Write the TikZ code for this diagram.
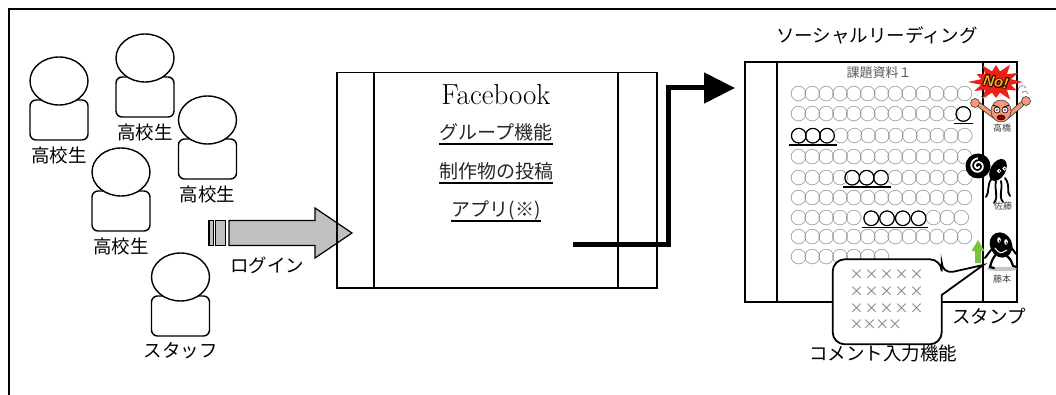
\documentclass[tikz,border=0pt]{standalone}
\usepackage{fontspec}
\newfontfamily\jp{Noto Sans CJK JP}
\newfontfamily\jpbold[FakeBold=3]{Noto Sans CJK JP}
\newfontfamily\lat{Liberation Sans}
\usetikzlibrary{arrows.meta,shapes.geometric}
\definecolor{arrowgray}{RGB}{192,192,192}
\definecolor{dotgray}{RGB}{128,128,128}
\definecolor{burstred}{RGB}{236,32,20}
\definecolor{noorange}{RGB}{250,168,20}
\definecolor{skin}{RGB}{244,152,118}
\definecolor{stampgreen}{RGB}{122,192,62}

\begin{document}
\begin{tikzpicture}[x=1pt,y=-1pt,
  lbl/.style={font=\jp\fontsize{18.5}{20}\selectfont, inner sep=0pt},
  fbtxt/.style={font=\jp\fontsize{19}{21}\selectfont, text=black!85, inner sep=0pt, anchor=base},
  gdot/.style={font=\jp\fontsize{17}{18}\selectfont, text=dotgray, inner sep=0pt},
  bdot/.style={font=\jpbold\fontsize{17}{18}\selectfont, text=black, inner sep=0pt},
  tiny/.style={font=\jp\fontsize{9}{10}\selectfont, text=black!75, inner sep=0pt},
  cross/.style={font=\jp\fontsize{14}{14}\selectfont, text=dotgray, inner sep=0pt},
  ul/.style={line width=1.2pt},
  pics/person/.style={code={
     \draw[line width=1.4pt, fill=white, rounded corners=6pt] (-29,0) rectangle (29,40);
     \draw[line width=1.4pt, fill=white] (0,-19) ellipse [x radius=29, y radius=24];
     \node[lbl] (-name) at (0,55) {#1};
  }},
]
\useasboundingbox (0,0) rectangle (1056,395);

% outer frame
\draw[line width=2pt] (9,395) -- (9,9.5) -- (1056,9.5);

% people
\pic (s1) at (59,100) {person=高校生};
\pic (s2) at (145,77) {person=高校生};
\pic (s3) at (207.5,139) {person=高校生};
\pic (s4) at (121,191) {person=高校生};
\pic (s5) at (180.5,296) {person=スタッフ};

% login arrow
\draw[line width=1.2pt, fill=arrowgray] (209,220.5) rectangle (213.3,245.5);
\draw[line width=1.2pt, fill=arrowgray] (215.7,220.5) rectangle (225.5,245.5);
\draw[line width=1.2pt, fill=arrowgray] (229,220.5) -- (315,220.5) -- (315,208) -- (352,233)
  -- (315,258) -- (315,245.5) -- (229,245.5) -- cycle;
\node[lbl] (login) at (267,265) {ログイン};

% Facebook block
\node[draw, line width=1.5pt, minimum width=320pt, minimum height=215pt, anchor=north west, inner sep=0pt] (fb) at (336,72) {};
\draw[line width=1.5pt] (374,72) -- (374,287);
\draw[line width=1.5pt] (618,72) -- (618,287);
\node[font=\fontsize{29}{31}\selectfont, inner sep=0pt] (fbtitle) at (496,95) {Facebook};
\node[fbtxt] (f1) at (496,140) {グループ機能};
\node[fbtxt] (f2) at (496,179) {制作物の投稿};
\node[fbtxt] (f3) at (496,217) {アプリ(※)};
\foreach \n in {f1,f2,f3}
  \draw[ul] ([yshift=-4pt]\n.base west) -- ([yshift=-4pt]\n.base east);

% social reading block
\node[lbl] (srtitle) at (877,35) {ソーシャルリーディング};
\node[draw, line width=2pt, minimum width=272pt, minimum height=240pt, anchor=north west, inner sep=0pt] (sr) at (744,61) {};
\draw[line width=2pt] (777,61) -- (777,301);
\draw[line width=2pt] (983,61) -- (983,301);

% connector
\coordinate (fbout) at (573,244);
\coordinate (turn) at (668,88);
\coordinate (srin) at (735,88);
\draw[line width=5pt, line join=miter, -{Triangle[length=31pt,width=30pt]}] (fbout) -| (turn) -- (srin);

% document text: rows of placeholder circles
\node[font=\jp\fontsize{13}{14}\selectfont, text=black!65, inner sep=0pt] (doc) at (879,73) {課題資料１};
\foreach \y/\x/\n/\sp/\st [count=\k] in {
   94/791.7/13/13.83/gdot,
   114/791.7/12/13.83/gdot, 114/956.4/1/13.83/bdot,
   135.7/791.7/3/14.1/bdot, 135.7/834/10/13.77/gdot,
   156.7/791.7/13/13.83/gdot,
   177.7/791.7/4/13.83/gdot, 177.7/845/3/14.4/bdot, 177.7/888.3/6/13.9/gdot,
   198.3/791.7/13/13.83/gdot,
   218.3/791.7/5/13.83/gdot, 218.3/863.3/4/15.8/bdot, 218.3/926.7/3/13.83/gdot,
   236.7/791.7/13/13.83/gdot,
   256.7/791.7/7/13.83/gdot}
  \foreach \i in {1,...,\n}
    \node[\st] (c\k-\i) at ({\x+\sp*(\i-0.5)}, \y) {○};
\draw[ul] ([xshift=-1pt,yshift=-9.3pt]c3-1.west) -- ([xshift=1pt,yshift=-9.3pt]c3-1.east);
\draw[ul] ([xshift=-1pt,yshift=-9.3pt]c4-1.west) -- ([xshift=1pt,yshift=-9.3pt]c4-3.east);
\draw[ul] ([xshift=-1pt,yshift=-9.3pt]c8-1.west) -- ([xshift=1pt,yshift=-9.3pt]c8-3.east);
\draw[ul] ([xshift=-1pt,yshift=-9.3pt]c12-1.west) -- ([xshift=1pt,yshift=-9.3pt]c12-4.east);

% stamp: angry man with NO!
\begin{scope}[shift={(996,82)}, xscale=1.4]
  \fill[burstred] (0:19) \foreach \a/\r in {30/17,60/20,90/16,120/19,150/18,180/20,210/16,240/19,270/17,300/20,330/18}
    { -- (\a-15:11) -- (\a:\r) } -- (345:11) -- cycle;
\end{scope}
\foreach \dx/\dy [count=\i] in {0.8/0,-0.8/0,0/0.8,0/-0.8,0.6/0.6,-0.6/0.6,0.6/-0.6,-0.6/-0.6}
  \node[font=\lat\bfseries\itshape\fontsize{15}{15}\selectfont, text=black, inner sep=0pt, rotate=-8] (nosh\i) at (996+\dx,82+\dy) {No!};
\node[font=\lat\bfseries\itshape\fontsize{15}{15}\selectfont, text=noorange, inner sep=0pt, rotate=-8] (notext) at (996,82) {No!};
\draw[line width=5pt, black!75, line cap=round] (994,116) -- (978,104);
\draw[line width=3.4pt, skin, line cap=round] (994,116) -- (978,104);
\draw[line width=5pt, black!75, line cap=round] (1008,116) -- (1023,103);
\draw[line width=3.4pt, skin, line cap=round] (1008,116) -- (1023,103);
\filldraw[fill=skin, draw=black!75, line width=0.6pt] (975,103) circle[radius=4.5];
\filldraw[fill=skin, draw=black!75, line width=0.6pt] (1026,101) circle[radius=4.5];
\filldraw[fill=skin, draw=black!75, line width=0.6pt] (1001,111) ellipse[x radius=10, y radius=11];
\filldraw[fill=white, draw=black, line width=0.6pt] (997,110) circle[radius=3];
\filldraw[fill=white, draw=black, line width=0.6pt] (1005,110) circle[radius=3];
\fill (997,110) circle[radius=0.9];
\fill (1005,110) circle[radius=0.9];
\draw[line width=0.8pt] (993,105) -- (999,107.5);
\draw[line width=0.8pt] (1003,107.5) -- (1009,105);
\filldraw[fill=red!55!black, draw=black, line width=0.5pt] (1001,117.5) ellipse[x radius=4, y radius=2.5];
\draw[black!55, line width=0.6pt] (1018,90) .. controls (1019,85) and (1024,84) .. (1026,88);
\draw[black!55, line width=0.6pt] (1022,93) .. controls (1024,90) and (1027,91) .. (1028,94);
\draw[black!55, line width=0.6pt] (981,96) -- (984,99);
\draw[black!55, line width=0.6pt] (985,94) -- (987,98);
\node[tiny] (name1) at (1002,128) {高橋};

% stamp: squid
\fill (978,166) circle[radius=12.5];
\draw[white, line width=1.8pt] plot[domain=0:630, samples=70, smooth] ({978+(1+\x/95)*cos(\x)}, {166+(1+\x/95)*sin(\x)});
\fill[rotate around={-30:(998,170)}] (998,170) ellipse[x radius=7.5, y radius=12];
\draw[line width=1.8pt, line cap=round] (992,178) .. controls (986,186) and (990,192) .. (986,197);
\draw[line width=1.8pt, line cap=round] (996,181) .. controls (994,190) and (999,196) .. (994,203);
\draw[line width=1.8pt, line cap=round] (1001,181) .. controls (1003,190) and (998,196) .. (1003,202);
\draw[line width=1.8pt, line cap=round] (1005,178) .. controls (1011,186) and (1006,192) .. (1010,196);
\filldraw[fill=white, draw=white] (999,171) circle[radius=1.8];
\filldraw[fill=white, draw=white] (1004.5,168.5) circle[radius=1.8];
\fill (999.3,171) circle[radius=0.8];
\fill (1004.8,168.5) circle[radius=0.8];
\node[tiny] (name2) at (1003,206) {佐藤};

% stamp: black blob
\fill[gray!45] (1002,269) ellipse[x radius=15, y radius=2.2];
\draw[line width=2.2pt, line cap=round] (996,254) .. controls (992,260) .. (990,267) -- (994,268);
\draw[line width=2.2pt, line cap=round] (1006,255) .. controls (1011,260) .. (1013,266) -- (1017,267);
\draw[line width=2pt, line cap=round] (991,250) -- (985,258);
\draw[line width=2pt, line cap=round] (1011,247) -- (1016,254);
\fill[rotate around={25:(1001,245)}] (1001,245) ellipse[x radius=11, y radius=13];
\fill[white] (999,240) ellipse[x radius=1.8, y radius=2.8];
\fill[white] (1006,242) ellipse[x radius=1.8, y radius=2.8];
\fill (999.5,241) circle[radius=0.8];
\fill (1006.5,243) circle[radius=0.8];
\draw[white, line width=1pt] (995,248) .. controls (1000,254) .. (1007,250);
\node[tiny] (name3) at (1002,279) {藤本};

% green arrow
\fill[stampgreen] (975,263) -- (975,251) -- (971.5,251) -- (978,240) -- (984.5,251) -- (981,251) -- (981,263) -- cycle;

% comment bubble
\draw[line width=1.8pt, fill=white] (941.7,295) [rounded corners=12pt] -- (941.7,344.3) -- (832.7,344.3)
  -- (832.7,259.3) -- (941.7,259.3) -- (941.7,274.3) [sharp corners] -- (983.3,265) -- cycle;
\foreach \y [count=\j] in {275,291.7,308.3}
  \foreach \x [count=\i] in {856.7,871.7,886.7,901.7,916.5}
    \node[cross] (x\j\i) at (\x,\y) {×};
\foreach \x [count=\i] in {856.7,869.5,882.3,895}
  \node[cross] (x4\i) at (\x,325) {×};

\node[lbl] (stamp) at (989,316) {スタンプ};
\node[lbl] (comment) at (883,353) {コメント入力機能};
\end{tikzpicture}
\end{document}
